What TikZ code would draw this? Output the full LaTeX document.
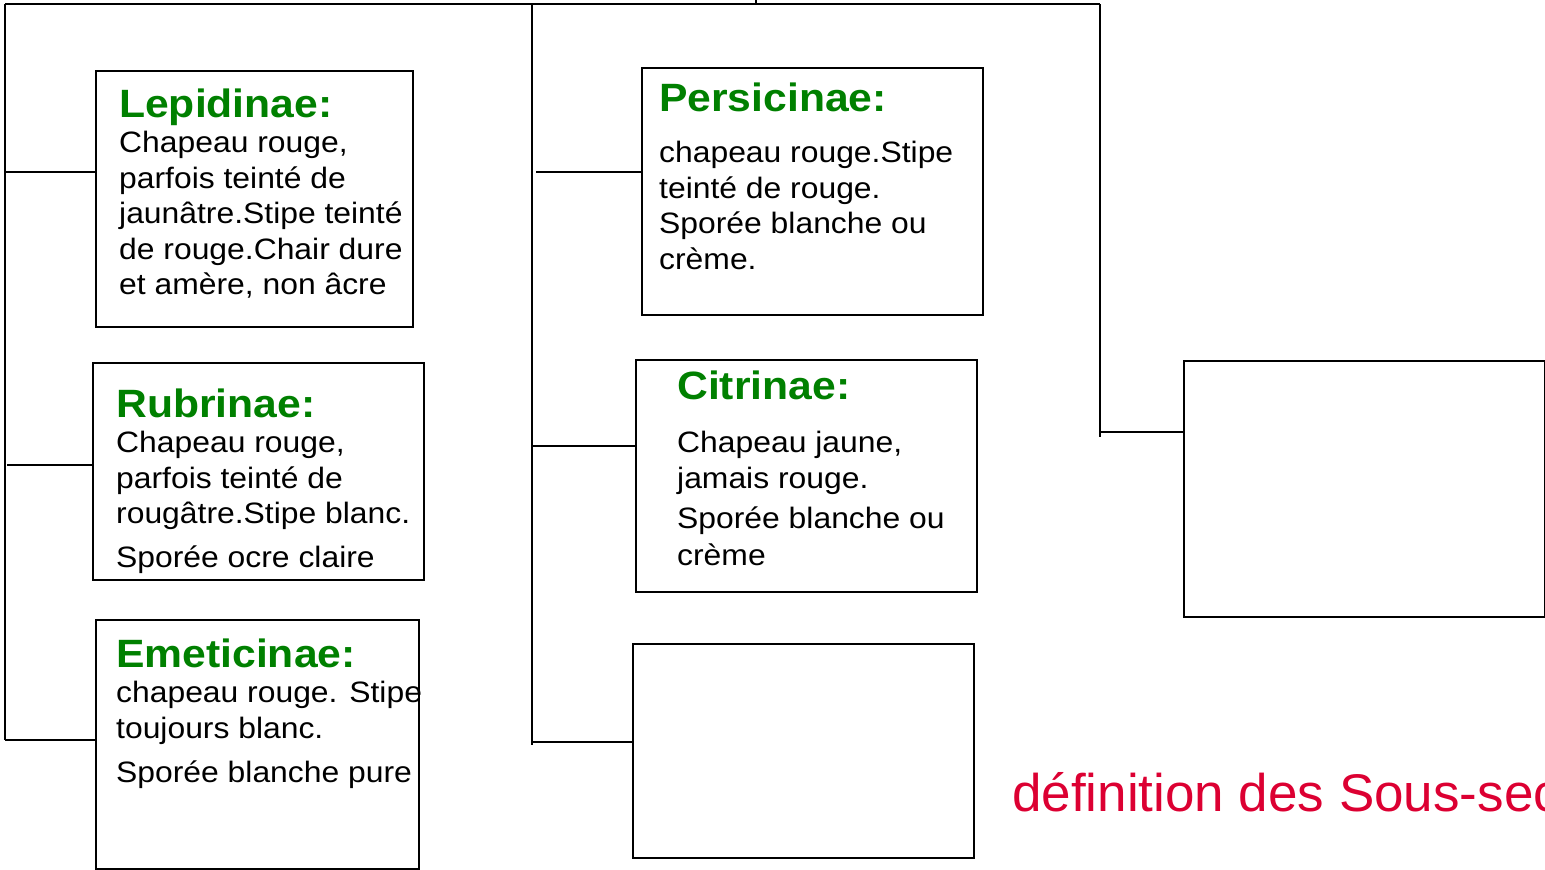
\documentclass[tikz,border=0pt]{standalone}
\usepackage{fontspec}
\setmainfont[FakeStretch=1.08]{Liberation Sans}
\newfontfamily\captionfont{Liberation Sans}
\usepackage{xcolor}
\definecolor{color008000}{HTML}{008000}
\definecolor{colordc0032}{HTML}{DC0032}
\newcommand{\sectitle}[1]{{\fontsize{39.5}{35.5}\selectfont\bfseries\color{color008000}\rule{0pt}{30pt}#1}}

\begin{document}
\begin{tikzpicture}
    [x=1pt, y=-1pt,
     box/.style={shape=rectangle, draw=black, line width=1.8pt, anchor=north west, inner sep=0pt},
     wire/.style={draw=black, line width=1.8pt},
     body/.style={anchor=north west, align=left, inner sep=0pt, font=\fontsize{29.5}{35.5}\selectfont},
    ]

\useasboundingbox (0,0) rectangle (1545,870);
\clip (0,0) rectangle (1545,870);

% boxes
\node[box, minimum width=317pt, minimum height=256pt] (node_lepidinae) at (95,70) {};
\node[box, minimum width=331pt, minimum height=217pt] (node_rubrinae) at (92,362) {};
\node[box, minimum width=323pt, minimum height=249pt] (node_emeticinae) at (95,619) {};
\node[box, minimum width=341pt, minimum height=247pt] (node_persicinae) at (641,67) {};
\node[box, minimum width=341pt, minimum height=232pt] (node_citrinae) at (635,359) {};
\node[box, minimum width=341pt, minimum height=214pt] (node_empty_mid) at (632,643) {};
\node[box, minimum width=361pt, minimum height=256pt] (node_empty_right) at (1183,360) {};

% texts (top = title baseline - 30)
\node[body] (text_lepidinae) at (119,87) {\sectitle{Lepidinae:}\\Chapeau rouge,\\parfois teinté de\\jaunâtre.Stipe teinté\\de rouge.Chair dure\\et amère, non âcre};
\node[body] (text_rubrinae) at (116,387) {\sectitle{Rubrinae:}\\Chapeau rouge,\\parfois teinté de\\rougâtre.Stipe blanc.\\[8pt]Sporée ocre claire};
\node[body] (text_emeticinae) at (116,637) {\sectitle{Emeticinae:}\\chapeau rouge. Stipe\\toujours blanc.\\[9pt]Sporée blanche pure};
\node[body] (text_persicinae) at (659,81) {\sectitle{Persicinae:}\\[16pt]chapeau rouge.Stipe\\teinté de rouge.\\Sporée blanche ou\\crème.};
\node[body] (text_citrinae) at (677,369) {\sectitle{Citrinae:}\\[18pt]Chapeau jaune,\\jamais rouge.\\[5pt]Sporée blanche ou\\[1pt]crème};
\node[anchor=base west, inner sep=0pt, text=colordc0032, font=\captionfont\fontsize{53}{60}\selectfont] (node_caption) at (1012,811) {définition des Sous-sections};

% tree
\coordinate (root) at (756,0);
\coordinate (rail_l) at (5,4);
\coordinate (rail_m) at (532,4);
\coordinate (rail_r) at (1100,4);
\coordinate (tap_lepidinae) at (5,172);
\coordinate (tap_rubrinae) at (7,465);
\coordinate (tap_emeticinae) at (5,740);
\coordinate (tap_persicinae) at (536,172);
\coordinate (tap_citrinae) at (532,446);
\coordinate (tap_empty_mid) at (532,742);
\coordinate (tap_empty_right) at (1100,432);

\draw[wire] (root) -- (root |- rail_l);
\draw[wire] (rail_l) -- (rail_r);
\draw[wire] (rail_l) -- (tap_emeticinae);
\draw[wire] (rail_m) -- ([yshift=-3pt]tap_empty_mid);
\draw[wire] (rail_r) -- ([yshift=-5pt]tap_empty_right);
\draw[wire] (tap_lepidinae) -- (tap_lepidinae -| node_lepidinae.west);
\draw[wire] (tap_rubrinae) -- (tap_rubrinae -| node_rubrinae.west);
\draw[wire] (tap_emeticinae) -- (tap_emeticinae -| node_emeticinae.west);
\draw[wire] (tap_persicinae) -- (tap_persicinae -| node_persicinae.west);
\draw[wire] (tap_citrinae) -- (tap_citrinae -| node_citrinae.west);
\draw[wire] (tap_empty_mid) -- (tap_empty_mid -| node_empty_mid.west);
\draw[wire] (tap_empty_right) -- (tap_empty_right -| node_empty_right.west);

\end{tikzpicture}
\end{document}
